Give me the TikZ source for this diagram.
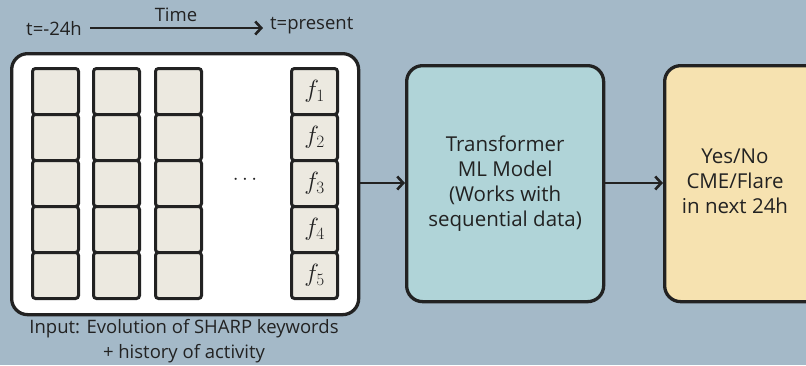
\documentclass[tikz,border=0pt]{standalone}
\usepackage{fontspec}
\setmainfont{Open Sans}
\usetikzlibrary{arrows.meta}
\definecolor{bgc}{HTML}{A4B9C8}
\definecolor{cellc}{HTML}{ECE9E0}
\definecolor{tfc}{HTML}{B0D4D8}
\definecolor{outc}{HTML}{F6E2B0}
\definecolor{linec}{HTML}{222222}
\begin{document}
\begin{tikzpicture}[x=1pt,y=-1pt,
  cell/.style={draw=linec,line width=3pt,fill=cellc,rounded corners=3pt,minimum width=46pt,minimum height=46pt,inner sep=0pt,anchor=north west},
  bigbox/.style={draw=linec,line width=3.3pt,rounded corners=16pt,inner sep=0pt},
  conn/.style={draw=linec,line width=2.6pt,-{Straight Barb[length=6pt,width=13pt,line width=2.6pt]}},
  lbl/.style={font=\fontsize{18.5}{20}\selectfont,text=linec,inner sep=0pt},
  btxt/.style={font=\fontsize{20.5}{25}\selectfont,text=linec,align=center,inner sep=0pt}]
\useasboundingbox[fill=bgc] (0,0) rectangle (806,365);
\begin{scope}
\clip (0,0) rectangle (806,365);
% input box
\node[bigbox,fill=white,minimum width=347pt,minimum height=261pt,anchor=north west] (inp) at (10,52) {};
\foreach \c/\x in {1/31,2/92,3/154,4/290}{
  \foreach \r in {1,...,5}{
    \node[cell] (c\c\r) at (\x,{67+(\r-1)*46}) {};
  }
}
\foreach \r in {1,...,5}{
  \node[font=\fontsize{23}{23}\selectfont,text=linec] at (c4\r.center) {$f_{\r}$};
}
\node[font=\fontsize{21}{21}\selectfont,text=linec] (dots) at (245,180) {$\cdots$};
% transformer
\node[bigbox,fill=tfc,minimum width=197pt,minimum height=236pt,anchor=north west] (tf) at (405,64) {};
\node[btxt] at (tf.center) {Transformer\\ML Model\\(Works with\\sequential data)};
% output
\node[bigbox,fill=outc,minimum width=160pt,minimum height=236pt,anchor=north west] (out) at (663,64) {};
\node[btxt] at (735,181) {Yes/No\\CME/Flare\\in next 24h};
\end{scope}
\draw[conn] (inp.east |- 0,183) -- (tf.west |- 0,183);
\draw[conn] (tf.east |- 0,183) -- (out.west |- 0,183);
% time axis
\node[lbl,anchor=east] (t0) at (82,29) {t=-24h};
\node[lbl,anchor=west] (t1) at (270,26) {t=present};
\coordinate (ts) at (90,28);
\coordinate (te) at (263,28);
\draw[conn] (ts) -- (te);
\node[lbl] (time) at (176,15) {Time};
% caption
\node[btxt,font=\fontsize{18.5}{25}\selectfont] (cap) at (184,341) {Input: Evolution of SHARP keywords\\+ history of activity};
\end{tikzpicture}
\end{document}
